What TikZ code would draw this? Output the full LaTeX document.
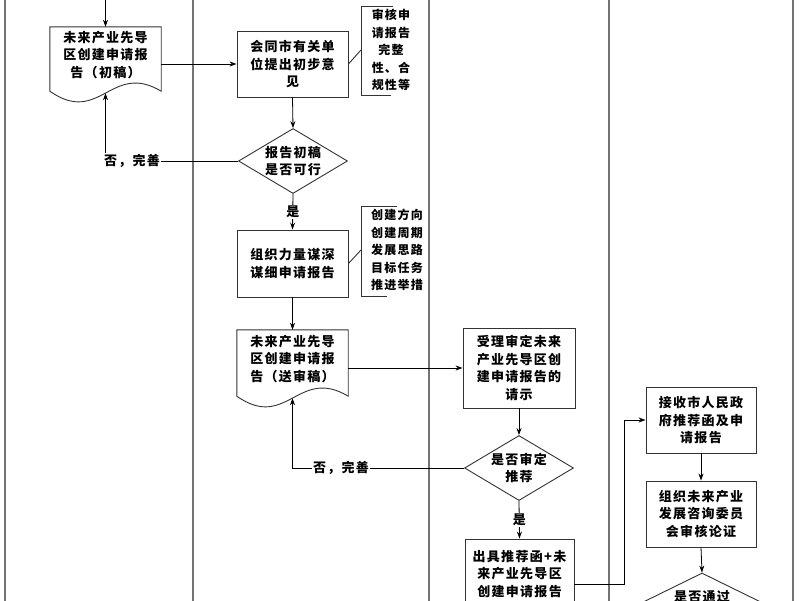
\documentclass[tikz,border=0pt]{standalone}
\usepackage{fontspec}
\setmainfont{Noto Sans CJK SC}[LetterSpace=10]
\usepackage{tikz}
\usetikzlibrary{shapes.geometric}
\usetikzlibrary{arrows.meta}
\usetikzlibrary{calc}

\begin{document}
\begin{tikzpicture}[x=1pt,y=-1pt,
    lane/.style={black!55,line width=1.6pt},
    boxline/.style={black!80,line width=0.9pt},
    box/.style={draw=black!80,line width=0.9pt,minimum width=111pt,minimum height=66pt,inner sep=0pt,align=center},
    docnode/.style={minimum width=111pt,minimum height=56pt,inner sep=0pt,align=center},
    decide/.style={diamond,draw=black!80,line width=0.9pt,minimum width=109pt,minimum height=65pt,inner sep=0pt,aspect=1.68,align=center},
    note/.style={align=center,inner sep=0pt,font=\bfseries\fontsize{12pt}{17.5pt}\selectfont},
    link/.style={line width=0.8pt,-{Stealth[length=7pt,width=5pt]}},
    tag/.style={fill=white,inner sep=1pt},
    font=\bfseries\fontsize{13pt}{17.5pt}\selectfont]

        \useasboundingbox (0,0) rectangle (800,600);
        \clip (0,0) rectangle (800,600);

        % lanes
        \foreach \x in {5,193,429,609,793}
            \draw[lane] (\x,-2) -- (\x,602);

        \node[docnode] (chugao) at (105.5,55) {未来产业先导\\区创建申请报\\告（初稿）};
        \draw[boxline] (chugao.north west) -- ($(chugao.south west)+(0,8)$) .. controls +(50,35) and +(-50,-30) .. ($(chugao.south east)+(0,8)$) -- (chugao.north east) -- cycle;
        \coordinate (start) at (105.5,-2);
        \draw[link] (start) -- (chugao.north);

        \node[box] (huitong) at (292.5,64) {会同市有关单\\位提出初步意\\见};
        \node[decide] (kexing) at (293,161) {报告初稿\\是否可行};
        \node[box,minimum height=67pt] (zuzhi) at (292.5,263.5) {组织力量谋深\\谋细申请报告};
        \node[docnode,minimum height=58pt] (songshen) at (292.5,359) {未来产业先导\\区创建申请报\\告（送审稿）};
        \draw[boxline] (songshen.north west) -- ($(songshen.south west)+(0,8)$) .. controls +(50,35) and +(-50,-30) .. ($(songshen.south east)+(0,8)$) -- (songshen.north east) -- cycle;

        \node[box,minimum width=112pt,minimum height=80pt] (shouli) at (519,368) {受理审定未来\\产业先导区创\\建申请报告的\\请示};
        \node[decide] (tuijian) at (519,468) {是否审定\\推荐};
        \node[box,minimum width=109pt,minimum height=70pt] (chuju) at (519.5,574) {出具推荐函+未\\来产业先导区\\创建申请报告};

        \node[box,minimum width=110pt] (jieshou) at (701,420) {接收市人民政\\府推荐函及申\\请报告};
        \node[box,minimum width=110pt] (lunzheng) at (701,514) {组织未来产业\\发展咨询委员\\会审核论证};
        \node[decide,minimum width=130pt,minimum height=64pt,aspect=2] (tongguo) at (702,605) {是否通过\\\mbox{}};

        % notes
        \node[note] (shenhe) at (391,50) {审核申\\请报告\\完整\\性、合\\规性等};
        \draw[boxline] (393,6) -- (361,6) -- (361,95) -- (391,95);
        \coordinate (k1) at (361,50);
        \draw[boxline] (huitong.east) -- (k1);

        \node[note] (neirong) at (397,250) {创建方向\\创建周期\\发展思路\\目标任务\\推进举措};
        \draw[boxline] (397,206) -- (361,206) -- (361,296) -- (387,296);
        \coordinate (k2) at (361,250);
        \draw[boxline] (zuzhi.east) -- (k2);

        % links
        \draw[link] (chugao.east |- huitong.west) -- (huitong.west);
        \draw[link] (huitong.south) -- (kexing.north);
        \draw[link] (kexing.south) -- node[tag]{是} (zuzhi.north);
        \draw[link] (kexing.west) -| ($(chugao.south)+(0,10)$);
        \node[tag] (fou1) at (132,161) {否，完善};
        \draw[link] (zuzhi.south) -- (songshen.north);
        \draw[link] (songshen.east |- shouli.west) -- (shouli.west);
        \draw[link] (shouli.south) -- (tuijian.north);
        \draw[link] (tuijian.west) -| ($(songshen.south)+(0,10)$);
        \node[tag] (fou2) at (341,468) {否，完善};
        \draw[link] (tuijian.south) -- node[tag]{是} (chuju.north);
        \draw[link] ($(chuju.east)+(0,10)$) -- ++(50,0) |- (jieshou.west);
        \draw[link] (jieshou.south) -- (lunzheng.north);
        \draw[link] (lunzheng.south) -- (tongguo.north);
\end{tikzpicture}
\end{document}
